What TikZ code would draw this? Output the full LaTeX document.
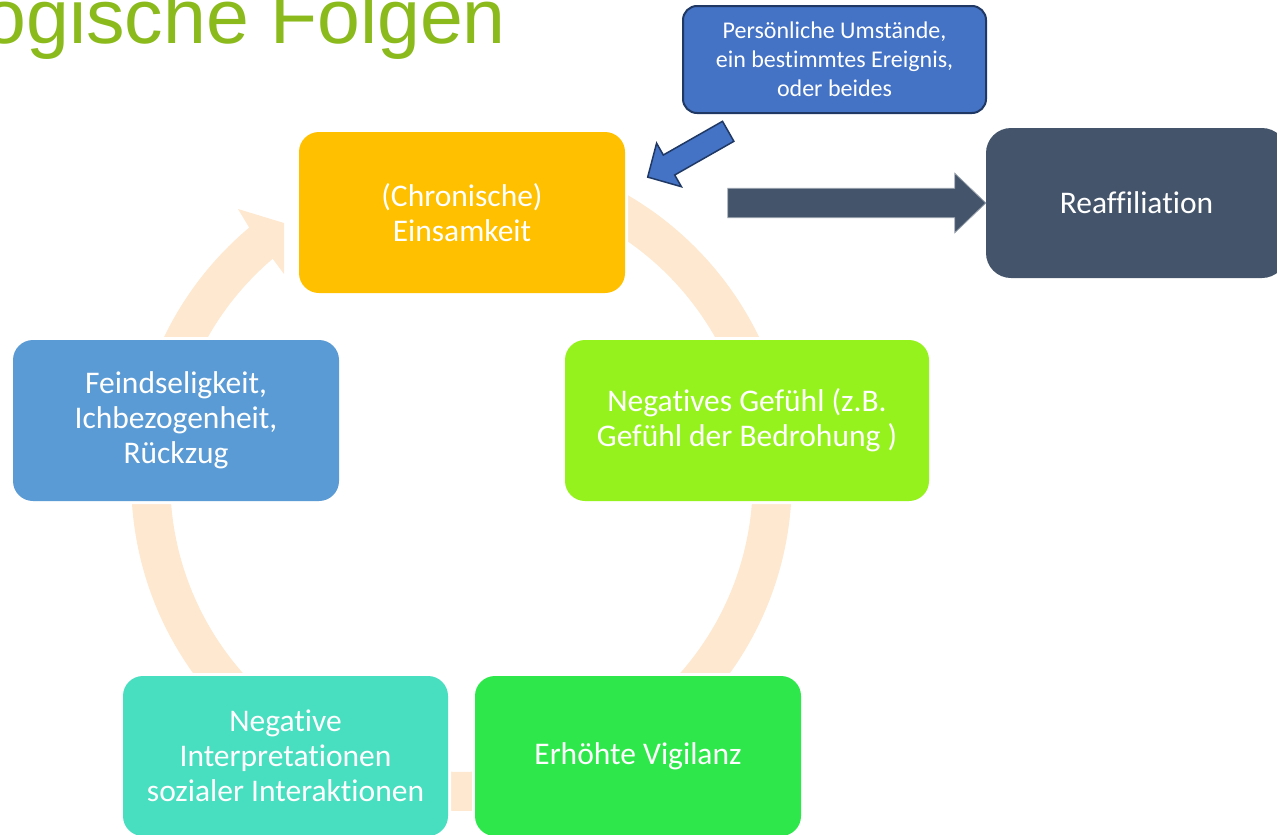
\documentclass[tikz,border=0pt]{standalone}
\usepackage{fontspec}
\setmainfont{Carlito}[Ligatures=CommonOff]
\newfontfamily\titlefont{Liberation Sans}
\usetikzlibrary{calc}
\definecolor{titlegreen}{RGB}{138,186,28}
\definecolor{ringc}{RGB}{254,232,207}
\definecolor{goldc}{RGB}{255,192,0}
\definecolor{limec}{RGB}{150,242,29}
\definecolor{greenc}{RGB}{46,232,75}
\definecolor{turqc}{RGB}{72,222,192}
\definecolor{bluec}{RGB}{91,155,213}
\definecolor{slatec}{RGB}{68,84,106}
\definecolor{callc}{RGB}{68,114,196}
\definecolor{navyc}{RGB}{31,56,100}
\begin{document}
\begin{tikzpicture}[x=1pt,y=-1pt,
  cyc/.style={rounded corners=20pt, fill=#1, text=white, minimum width=326pt,
    minimum height=161pt, inner sep=0pt, align=center,
    font=\fontsize{31.5}{35}\selectfont, preaction={draw=white, line width=6pt}},
  boxtext/.style={text=white, align=center, inner sep=0pt}]
\useasboundingbox (0,0) rectangle (1277,835);

% title
\node[anchor=base east, text=titlegreen, inner sep=0pt,
  font=\titlefont\fontsize{77}{90}\selectfont] (title) at (506,43) {ogische Folgen};

% cycle ring with arrowhead
\coordinate (C) at (461.5,480.6);
\fill[ringc] ($(C)+(-90:330.3)$) arc[start angle=-90,end angle=230,radius=330.3]
  -- (238,209) -- (284,223) -- (284,274) -- (272.5,258.5)
  -- ($(C)+(229.6:291.3)$) arc[start angle=229.6,end angle=-90,radius=291.3] -- cycle;

% cycle boxes
\node[cyc=goldc] (eins) at (462,212.5) {(Chronische)\\Einsamkeit};
\node[cyc=limec, minimum width=364pt] (neg) at (747,420.5) {Negatives Gefühl (z.B.\\Gefühl der Bedrohung )};
\node[cyc=greenc, minimum height=160pt] (vig) at (638,756) {Erhöhte Vigilanz};
\node[cyc=turqc, minimum width=325pt, minimum height=160pt] (interp) at (285.5,756) {Negative\\Interpretationen\\sozialer Interaktionen};
\node[cyc=bluec] (feind) at (176,420.5) {Feindseligkeit,\\Ichbezogenheit,\\Rückzug};

% reaffiliation
\node[boxtext, rounded corners=25pt, fill=slatec, minimum width=301pt, minimum height=150pt,
  font=\fontsize{31.5}{35}\selectfont] (reaf) at (1136.5,203) {Reaffiliation};

% callout
\node[boxtext, rounded corners=14pt, fill=callc, draw=navyc, line width=2pt,
  minimum width=303pt, minimum height=107pt,
  font=\fontsize{24}{29}\selectfont] (call) at (834.5,59.5) {Persönliche Umstände,\\ein bestimmtes Ereignis,\\oder beides};

% big arrow Einsamkeit -> Reaffiliation
\begin{scope}[shift={(reaf.west)}]
\draw[fill=slatec, draw=slatec!55!white, line width=0.8pt]
  (-258,-14.7) -- (-31,-14.7) -- (-31,-29.7) -- (0,0) -- (-31,29.7) -- (-31,14.7) -- (-258,14.7) -- cycle;
\end{scope}

% blue arrow callout -> Einsamkeit
\coordinate (btip) at ($(eins.north east)+(22.5,45.3)$);
\begin{scope}[shift={(btip)}]
\draw[fill=callc, draw=navyc, line width=1.5pt, line join=miter]
  (0,0) -- (8.9,-33.9) -- (15.6,-22.1) -- (74.8,-55.8) -- (86.2,-35.8) -- (27.0,-2.1) -- (33.7,9.6) -- cycle;
\end{scope}
\end{tikzpicture}
\end{document}
